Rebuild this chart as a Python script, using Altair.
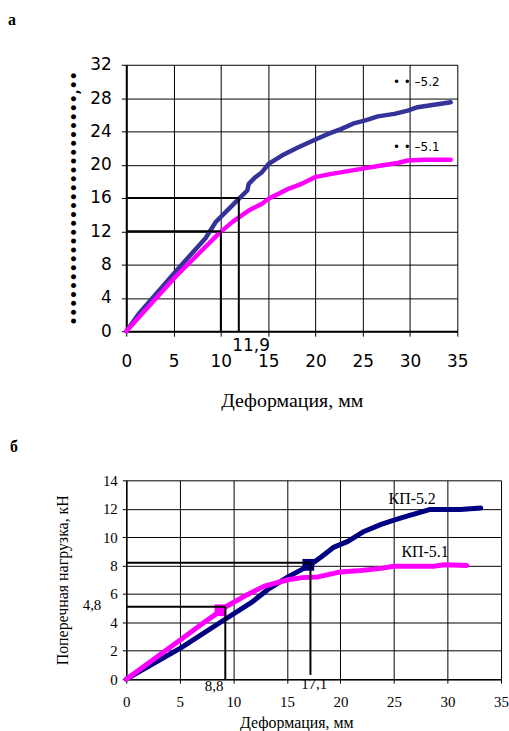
import altair as alt
import pandas as pd

# ---------- panel "а" ----------
a_x_52 = [0, 1.4, 5.25, 8.4, 9.45, 10.85, 11.9, 12.8, 12.95, 13.65, 14.35, 15.05, 16.45,
          18.2, 19.95, 21.35, 22.75, 24.15, 25.2, 26.6, 28.35, 29.75, 30.8, 34.3]
a_y_52 = [0, 2.2, 7.2, 11.2, 13.1, 14.7, 15.9, 16.9, 17.7, 18.5, 19.1, 20.1, 21.1,
          22.1, 23.0, 23.7, 24.3, 25.0, 25.3, 25.8, 26.1, 26.5, 26.9, 27.5]
a_x_51 = [0, 5.25, 9.8, 11.2, 12.95, 14.35, 15.05, 17.15, 18.55, 19.95, 21.7, 24.85,
          26.95, 28.7, 29.75, 31.5, 34.3]
a_y_51 = [0, 6.6, 11.75, 13.1, 14.5, 15.3, 15.9, 17.1, 17.7, 18.5, 18.9, 19.5,
          19.9, 20.2, 20.5, 20.6, 20.6]
a_xticks = [0, 5, 10, 15, 20, 25, 30, 35]
a_yticks = [0, 4, 8, 12, 16, 20, 24, 28, 32]
a_ref_x = [0, 11.9, 0, 10]
a_ref_x2 = [11.9, 11.9, 10, 10]
a_ref_y = [16, 0, 12, 0]
a_ref_y2 = [16, 16, 12, 12]
a_lab_text = ["• • –5.2", "• • –5.1"]
a_lab_x = [28.2, 28.2]
a_lab_y = [29.9, 22.1]
a_val_text = ["11,9"]
a_val_x = [13.2]
a_val_y = [-1.75]

# ---------- panel "б" ----------
b_x_52 = [0, 5.1, 9.2, 11.7, 13.2, 15.1, 16.6, 17.2, 18.2, 19.4, 20.7, 22.2, 23.8,
          25.0, 26.3, 28.4, 31.2, 33.1]
b_y_52 = [0, 2.2, 4.2, 5.4, 6.3, 7.2, 7.8, 8.05, 8.6, 9.3, 9.7, 10.4, 10.9,
          11.2, 11.5, 11.95, 11.95, 12.05]
b_x_51 = [0, 5.1, 7.0, 8.5, 9.3, 11.3, 12.9, 15.1, 16.4, 17.9, 20.0, 21.9, 23.8,
          25.0, 28.7, 29.7, 31.8]
b_y_51 = [0, 2.8, 3.85, 4.65, 5.1, 5.95, 6.55, 7.0, 7.15, 7.2, 7.55, 7.65, 7.8,
          7.95, 7.95, 8.05, 8.0]
b_xticks = [0, 5, 10, 15, 20, 25, 30, 35]
b_yticks = [0, 2, 4, 6, 8, 10, 12, 14]
b_ref_x = [0, 9.25, 0, 17.2]
b_ref_x2 = [9.25, 9.25, 17.2, 17.2]
b_ref_y = [5.1, 0, 8.2, 0.3]
b_ref_y2 = [5.1, 5.1, 8.2, 8.2]
b_pt_x = [8.8, 17.0]
b_pt_y = [4.85, 8.05]
b_pt_s = ["КП-5.1", "КП-5.2"]
b_lab_text = ["КП-5.2", "КП-5.1"]
b_lab_x = [26.7, 27.9]
b_lab_y = [12.7, 8.96]
b_val_text = ["4,8", "8,8", "17,1"]
b_val_x = [-3.2, 8.2, 17.55]
b_val_y = [5.25, -0.5, -0.35]

series = ["КП-5.2", "КП-5.1"]
a_colors = ["#333399", "#FF00FF"]
b_colors = ["#000080", "#FF00FF"]


def line_df(x52, y52, x51, y51):
    rows = []
    for i, (x, y) in enumerate(zip(x52, y52)):
        rows.append({"x": x, "y": y, "s": "КП-5.2", "i": i})
    for i, (x, y) in enumerate(zip(x51, y51)):
        rows.append({"x": x, "y": y, "s": "КП-5.1", "i": i})
    return pd.DataFrame(rows)


def ref_df(x, x2, y, y2):
    return pd.DataFrame({"x": x, "x2": x2, "y": y, "y2": y2})


def text_df(t, x, y):
    return pd.DataFrame({"t": t, "x": x, "y": y})


SANS = "DejaVu Sans"
SERIF = "Liberation Serif"

# ----- top chart -----
a_xaxis = alt.Axis(values=a_xticks, grid=True, gridColor="black", gridWidth=1, gridOpacity=1,
                   domainColor="black", domainWidth=2, tickColor="black", tickSize=5,
                   labelFont=SANS, labelFontSize=17, labelColor="black", labelPadding=18,
                   labelFlush=False, labelOverlap=False,
                   titleFont=SERIF, titleFontSize=20, titleFontWeight="normal",
                   titleColor="black", titlePadding=21)
a_yaxis = alt.Axis(values=a_yticks, grid=True, gridColor="black", gridWidth=1, gridOpacity=1,
                   domainColor="black", domainWidth=2, tickColor="black", tickSize=5,
                   labelFont=SANS, labelFontSize=17, labelColor="black", labelPadding=10,
                   labelFlush=False, labelOverlap=False,
                   titleFont=SANS, titleFontSize=14, titleFontWeight="bold",
                   titleColor="black", titlePadding=8)


def ax(field="x:Q"):
    return alt.X(field, scale=alt.Scale(domain=[0, 35], nice=False), axis=a_xaxis,
                 title="Деформация, мм")


def ay(field="y:Q"):
    return alt.Y(field, scale=alt.Scale(domain=[0, 32], nice=False), axis=a_yaxis,
                 title="•" * 26 + "," + "••")


a_lines = alt.Chart(line_df(a_x_52, a_y_52, a_x_51, a_y_51)).mark_line(
    strokeWidth=4.5, strokeCap="round", strokeJoin="round").encode(
    x=ax(), y=ay(),
    color=alt.Color("s:N", scale=alt.Scale(domain=series, range=a_colors), legend=None),
    order="i:Q",
)
a_rules = alt.Chart(ref_df(a_ref_x, a_ref_x2, a_ref_y, a_ref_y2)).mark_rule(
    color="black", strokeWidth=2).encode(x=ax(), x2="x2:Q", y=ay(), y2="y2:Q")
a_labels = alt.Chart(text_df(a_lab_text, a_lab_x, a_lab_y)).mark_text(
    align="left", baseline="middle", font=SANS, fontSize=12, color="black").encode(
    x=ax(), y=ay(), text="t:N")
a_vals = alt.Chart(text_df(a_val_text, a_val_x, a_val_y)).mark_text(
    align="center", baseline="middle", font=SANS, fontSize=17, color="black").encode(
    x=ax(), y=ay(), text="t:N")

top = alt.layer(a_lines, a_rules, a_labels, a_vals).properties(
    width=333, height=268,
    title=alt.TitleParams("а", anchor="start", frame="group", font=SERIF, fontSize=16,
                          fontWeight="bold", color="black", dx=-119, offset=28),
)

# ----- bottom chart -----
b_xaxis = alt.Axis(values=b_xticks, grid=True, gridColor="black", gridWidth=1, gridOpacity=1,
                   domainColor="black", domainWidth=1.5, tickColor="black", tickSize=4,
                   labelFont=SERIF, labelFontSize=15, labelColor="black", labelPadding=12,
                   labelFlush=False, labelOverlap=False,
                   titleFont=SERIF, titleFontSize=16, titleFontWeight="normal",
                   titleColor="black", titlePadding=5, titleX=171)
b_yaxis = alt.Axis(values=b_yticks, grid=True, gridColor="black", gridWidth=1, gridOpacity=1,
                   domainColor="black", domainWidth=1.5, tickColor="black", tickSize=4,
                   labelFont=SERIF, labelFontSize=15, labelColor="black", labelPadding=5,
                   labelFlush=False, labelOverlap=False,
                   titleFont=SERIF, titleFontSize=16, titleFontWeight="normal",
                   titleColor="black", titlePadding=32)


def bx(field="x:Q"):
    return alt.X(field, scale=alt.Scale(domain=[0, 35], nice=False), axis=b_xaxis,
                 title="Деформация, мм")


def by(field="y:Q"):
    return alt.Y(field, scale=alt.Scale(domain=[0, 14], nice=False), axis=b_yaxis,
                 title="Поперечная  нагрузка, кН")


b_lines = alt.Chart(line_df(b_x_52, b_y_52, b_x_51, b_y_51)).mark_line(
    strokeWidth=5, strokeCap="round", strokeJoin="round").encode(
    x=bx(), y=by(),
    color=alt.Color("s:N", scale=alt.Scale(domain=series, range=b_colors), legend=None),
    order="i:Q",
)
b_points = alt.Chart(pd.DataFrame({"x": b_pt_x, "y": b_pt_y, "s": b_pt_s})).mark_square(
    size=140, opacity=1).encode(
    x=bx(), y=by(),
    color=alt.Color("s:N", scale=alt.Scale(domain=series, range=b_colors), legend=None),
)
b_rules = alt.Chart(ref_df(b_ref_x, b_ref_x2, b_ref_y, b_ref_y2)).mark_rule(
    color="black", strokeWidth=2).encode(x=bx(), x2="x2:Q", y=by(), y2="y2:Q")
b_labels = alt.Chart(text_df(b_lab_text, b_lab_x, b_lab_y)).mark_text(
    align="center", baseline="middle", font=SERIF, fontSize=16, color="black").encode(
    x=bx(), y=by(), text="t:N")
b_vals = alt.Chart(text_df(b_val_text, b_val_x, b_val_y)).mark_text(
    align="center", baseline="middle", font=SERIF, fontSize=15, color="black").encode(
    x=bx(), y=by(), text="t:N")

bottom = alt.layer(b_lines, b_points, b_rules, b_labels, b_vals).properties(
    width=377, height=200,
    title=alt.TitleParams("б", anchor="start", frame="group", font=SERIF, fontSize=16,
                          fontWeight="bold", color="black", dx=-117, offset=18),
)

chart = alt.vconcat(top, bottom, spacing=29).resolve_scale(
    color="independent", x="independent", y="independent"
).properties(
    padding={"left": 8, "top": 10, "right": 0, "bottom": 0},
    background="white",
).configure_view(stroke=None)

chart.save("out.html", embed_options={"renderer": "svg", "actions": False})
